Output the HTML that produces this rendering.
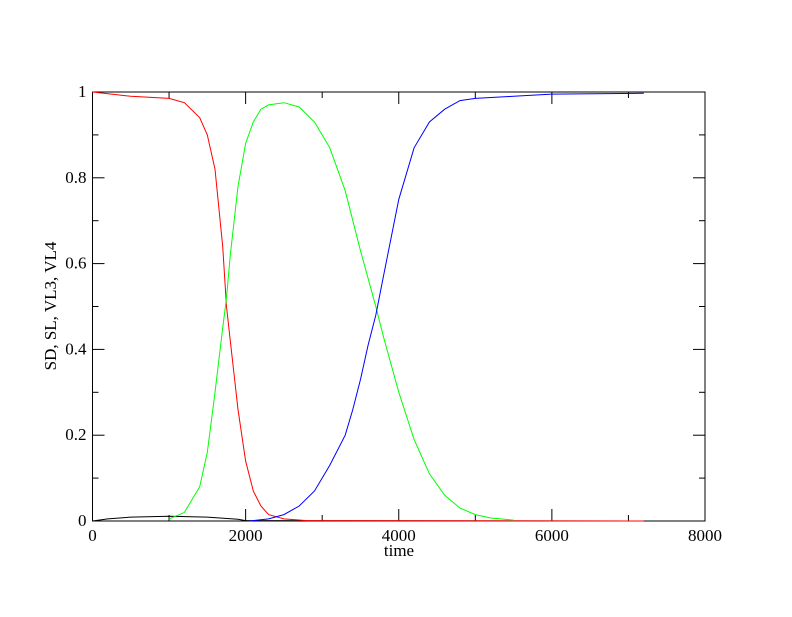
<!DOCTYPE html>
<html><head><meta charset="utf-8"><style>
body{margin:0;background:#fff}
svg text{font-family:"Liberation Serif",serif;font-size:17px;fill:#000}
</style></head><body>
<svg id="chart" width="792" height="612">
<rect width="792" height="612" fill="#fff"/>
<g id="axes"></g><g id="series"></g>
<text x="399" y="556" text-anchor="middle">time</text>
<text transform="translate(56,306) rotate(-90)" text-anchor="middle">SD, SL, VL3, VL4</text>
</svg>
<script>
const xTicks=[0,2000,4000,6000,8000];
const yTicks=[0,0.2,0.4,0.6,0.8,1];
const yTickLabels=["0","0.2","0.4","0.6","0.8","1"];
const redT=[0,500,1000,1200,1400,1500,1600,1700,1750,1800,1900,2000,2100,2200,2300,2500,2800,7200];
const redV=[1,0.99,0.985,0.975,0.94,0.9,0.82,0.64,0.5,0.42,0.26,0.14,0.07,0.035,0.015,0.005,0.001,0];
const greenT=[1000,1200,1400,1500,1600,1700,1750,1800,1900,2000,2100,2200,2300,2500,2700,2900,3100,3300,3500,3700,3800,4000,4200,4400,4600,4800,5000,5200,5500];
const greenV=[0.005,0.02,0.08,0.16,0.3,0.45,0.52,0.62,0.78,0.88,0.93,0.96,0.97,0.975,0.965,0.93,0.87,0.77,0.63,0.5,0.43,0.3,0.19,0.11,0.06,0.03,0.015,0.007,0.002];
const blueT=[2050,2300,2500,2700,2900,3100,3300,3400,3500,3600,3700,3800,4000,4200,4400,4600,4800,5000,5500,6000,7200];
const blueV=[0,0.005,0.015,0.035,0.07,0.13,0.2,0.26,0.33,0.41,0.48,0.57,0.75,0.87,0.93,0.96,0.98,0.985,0.99,0.995,0.997];
const blackT=[0,200,500,1000,1500,1900,2000,7200];
const blackV=[0,0.005,0.009,0.011,0.009,0.004,0.001,0];
const X0=92.5,X1=705,Y0=521,Y1=92;
const sx=t=>X0+(X1-X0)*t/8000, sy=v=>Y0-(Y0-Y1)*v;
const NS="http://www.w3.org/2000/svg";
const ax=document.getElementById('axes'), se=document.getElementById('series');
function mk(tag,at,par){const e=document.createElementNS(NS,tag);for(const k in at)e.setAttribute(k,at[k]);par.appendChild(e);return e;}
const fr=mk('rect',{x:X0,y:Y1,width:X1-X0,height:Y0-Y1,fill:'none',stroke:'#000','stroke-width':1},ax);


for(let t=0;t<=8000;t+=1000){const x=sx(t),L=t%2000===0?12:6;
 const a=mk('line',{x1:x,x2:x,y1:Y0,y2:Y0-L,stroke:'#000'},ax);
 
 
 mk('line',{x1:x,x2:x,y1:Y1,y2:Y1+L,stroke:'#000'},ax);}
for(let i=0;i<=10;i++){const v=i/10,y=sy(v),L=i%2===0?12:6;
 const a=mk('line',{x1:X0,x2:X0+L,y1:y,y2:y,stroke:'#000'},ax);
 
 
 mk('line',{x1:X1,x2:X1-L,y1:y,y2:y,stroke:'#000'},ax);}
xTicks.forEach(t=>{const e=mk('text',{x:sx(t),y:Y0+20,'text-anchor':'middle'},ax);e.textContent=t;
 
 });
yTicks.forEach((v,i)=>{const e=mk('text',{x:X0-6,y:sy(v)+5,'text-anchor':'end'},ax);e.textContent=yTickLabels[i];
 
 });
function line(T,V,c,name){const p=T.map((t,i)=>sx(t).toFixed(1)+','+sy(V[i]).toFixed(1)).join(' ');
 const e=mk('polyline',{points:p,fill:'none',stroke:c,'stroke-width':1},se);
 
 }
line(blackT,blackV,'#000','series-black');
line(redT,redV,'#f00','series-red');
line(greenT,greenV,'#0f0','series-green');
line(blueT,blueV,'#00f','series-blue');
</script>
</body></html>
